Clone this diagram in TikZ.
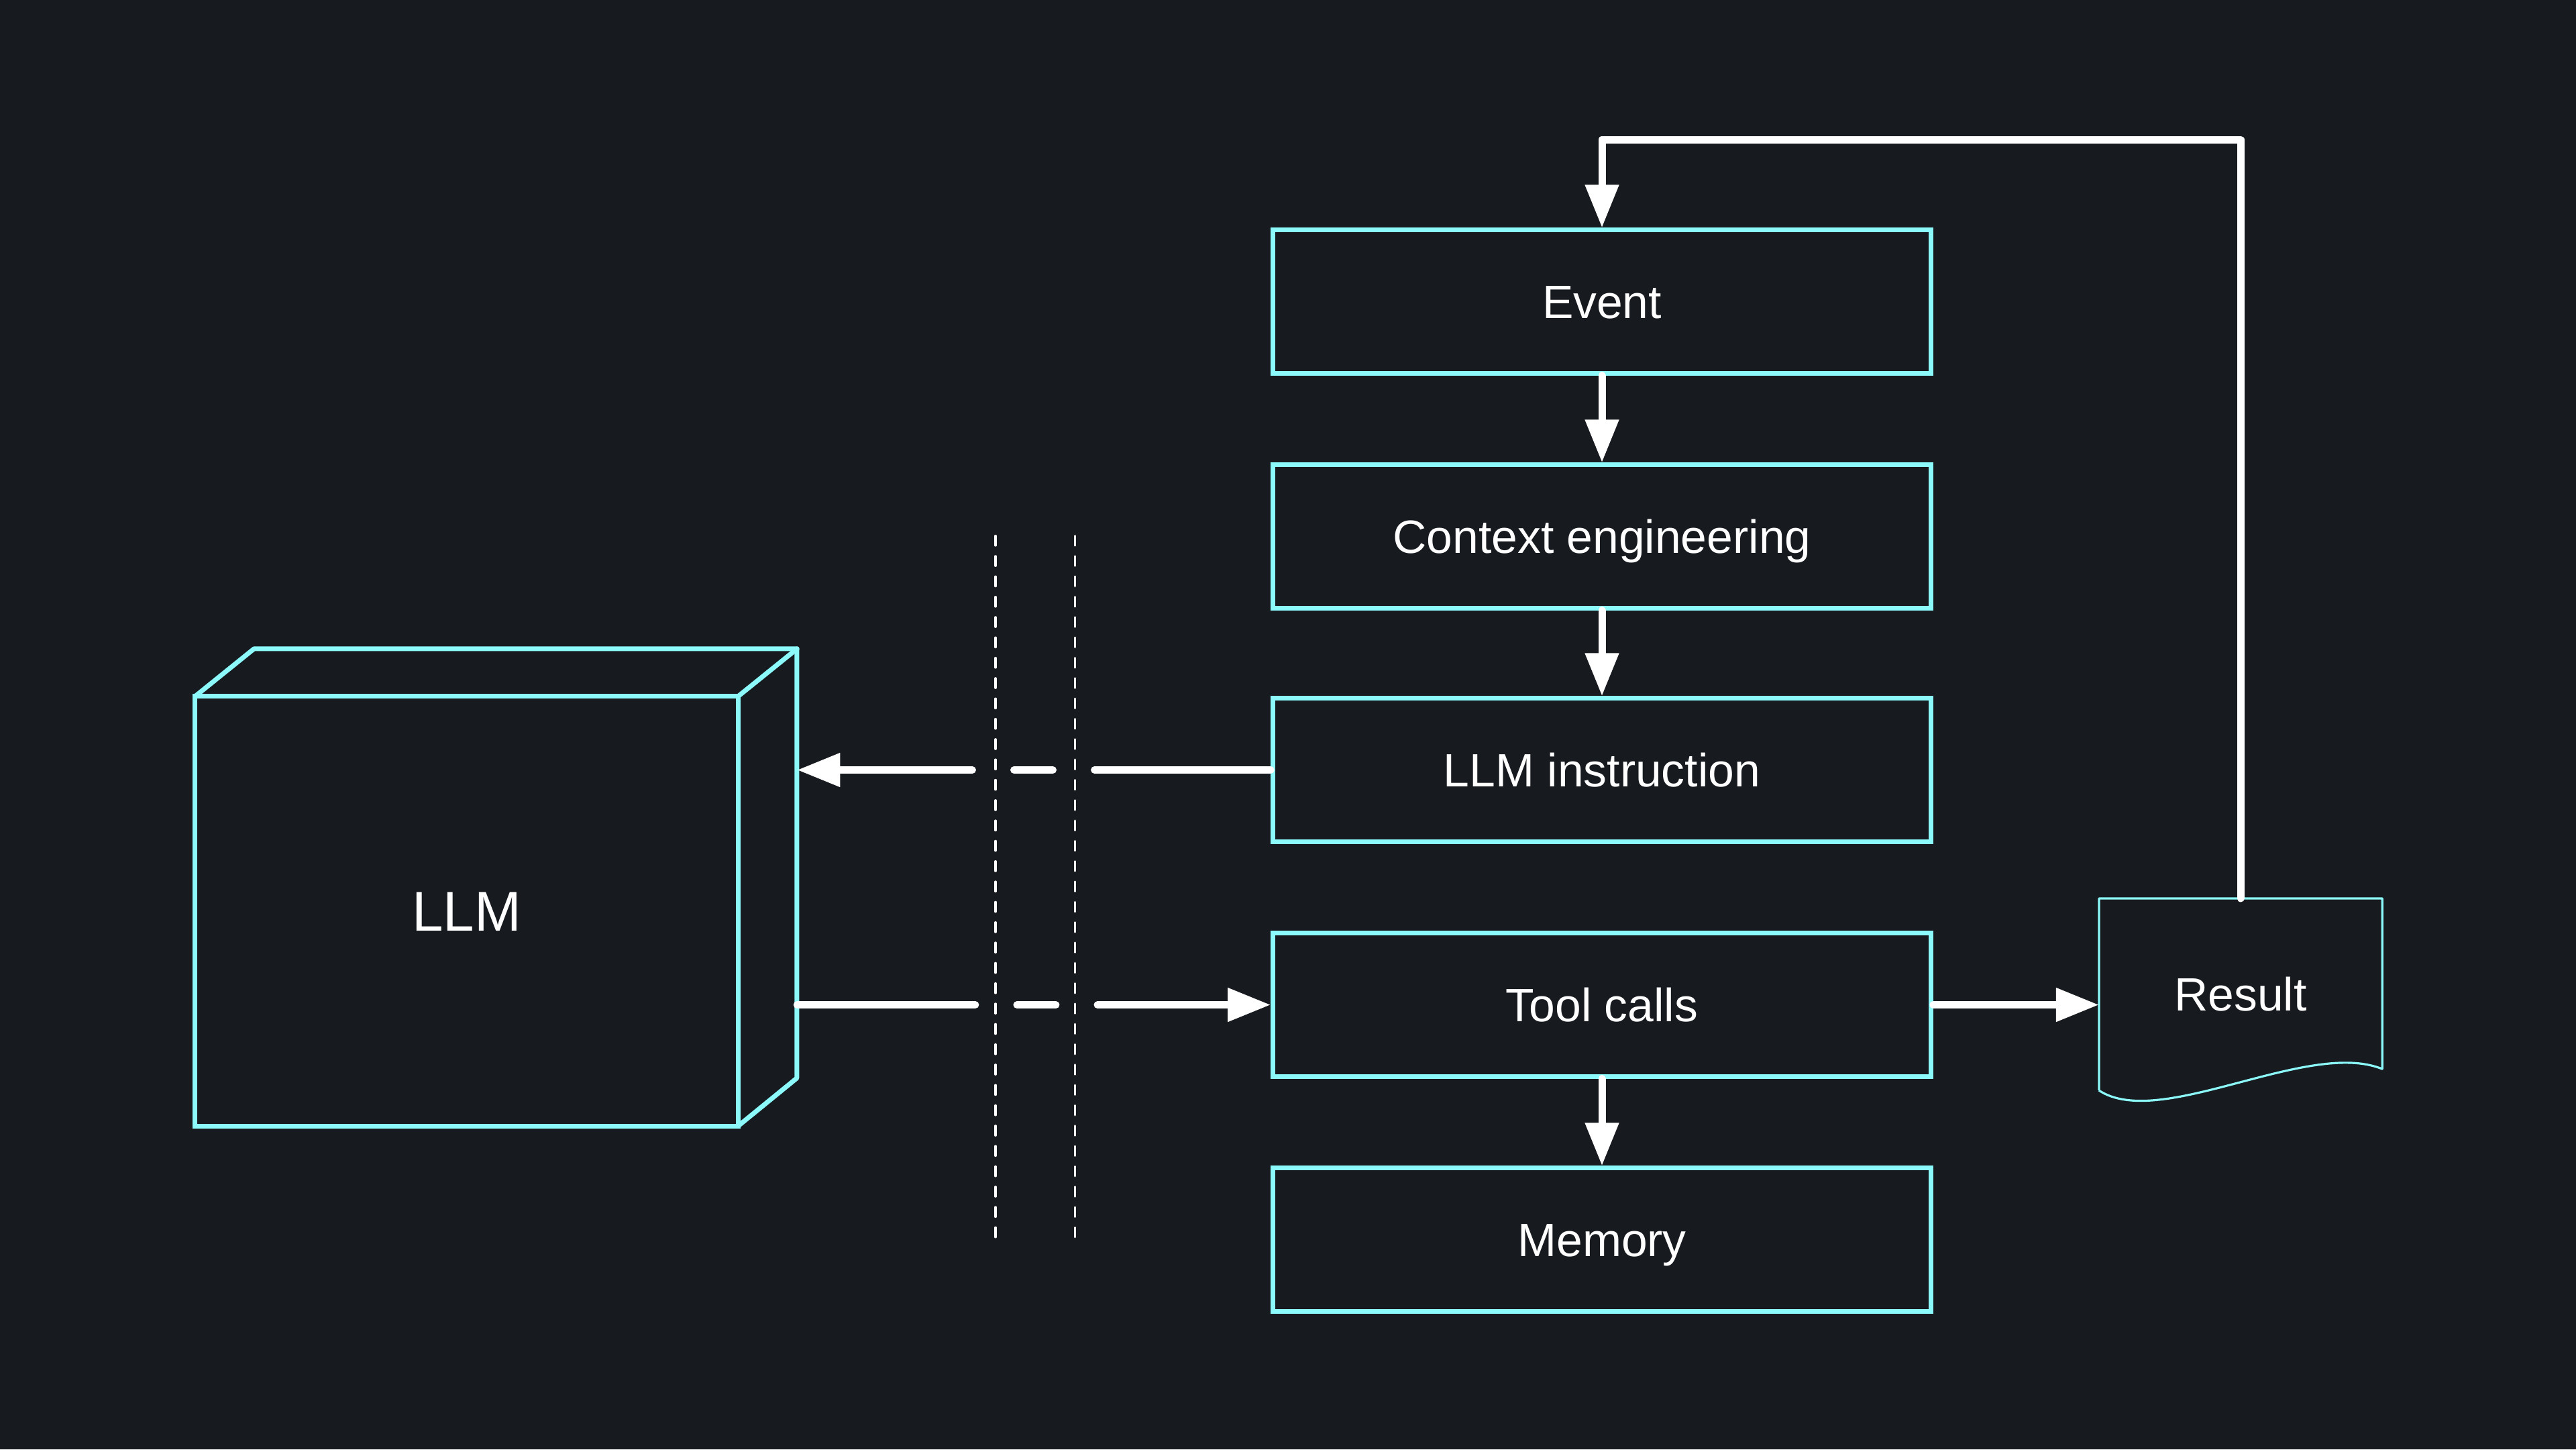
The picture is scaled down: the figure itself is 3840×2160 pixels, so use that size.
\documentclass[tikz,border=0pt]{standalone}
\usepackage{fontspec}
\setmainfont{Liberation Sans}
\usetikzlibrary{arrows.meta,calc}
\definecolor{bg}{HTML}{171A1F}
\definecolor{cyanc}{HTML}{8CFAFA}
\begin{document}
\begin{tikzpicture}[x=0.01cm,y=-0.01cm,
  stepbox/.style={draw=cyanc, line width=2pt, fill=bg, minimum width=9.8cm, minimum height=2.13cm,
    font=\fontsize{19.8}{22}\selectfont, text=white, text height=14.18pt, text depth=0pt, inner sep=0pt},
  llmbox/.style={draw=cyanc, line width=2pt, fill=bg, minimum width=8.09cm, minimum height=6.4cm,
    outer sep=0pt, font=\fontsize{23.8}{26}\selectfont, text=white, text height=17.04pt, text depth=0pt, inner sep=0pt},
  cubeedge/.style={draw=cyanc, line width=2pt, line join=round, line cap=round},
  docnode/.style={minimum width=4.22cm, minimum height=2.86cm, inner sep=0pt, outer sep=0pt,
    font=\fontsize{19.8}{22}\selectfont, text=white, text height=14.18pt, text depth=0pt},
  docedge/.style={draw=cyanc, line width=0.032cm, line join=round},
  wire/.style={draw=white, line width=0.11cm, line cap=round, line join=round,
    -{Triangle[length=0.64cm, width=0.48cm]}},
  fence/.style={draw=white, line width=0.033cm, line cap=round, dash pattern=on 0.144cm off 0.159cm}
]
\fill[bg] (0,0) rectangle (3840,2160);
\useasboundingbox (0,0) rectangle (3840,2160);

% boxes
\node[stepbox] (event)   at (2388,449.5)  {Event};
\node[stepbox] (context) at (2388,799.5)  {Context engineering};
\node[stepbox] (instr)   at (2388,1147.5) {LLM instruction};
\node[stepbox] (tool)    at (2388,1497.5) {Tool calls};
\node[stepbox] (memory)  at (2388,1847.5) {Memory};

% LLM cube
\node[llmbox] (llm) at (695.5,1358) {LLM};
\draw[cubeedge] (llm.north west) -- ++(88,-71) -- ++(809,0) -- ++(0,640) -- (llm.south east);
\draw[cubeedge] (llm.north east) -- ++(88,-71);
\coordinate (llmside) at ($(llm.east)+(88,0)$);

% result document
\node[docnode] (result) at (3340,1482) {Result};
\draw[docedge] (result.south west) -- (result.north west) -- (result.north east)
  -- ($(result.south east)+(0,-32)$)
  .. controls ($(result.south east)+(-111,-77)$) and ($(result.south west)+(91,60)$) .. (result.south west);

% fences
\coordinate (fa1) at (1484,798.6);
\coordinate (fa2) at (1484,1845);
\coordinate (fb1) at (1602.5,798.6);
\coordinate (fb2) at (1602.5,1845);
\draw[fence] (fa1) -- (fa2);
\draw[fence] (fb1) -- (fb2);

% vertical flow
\draw[wire] (event.south) -- (context.north);
\draw[wire] (context.south) -- (instr.north);
\draw[wire] (tool.south) -- (memory.north);

% across the fences
\draw[wire, dash pattern=on 2.625cm off 0.62cm on 0.58cm off 0.62cm on 4cm]
  (instr.west) -- (instr.west -| llmside);
\draw[wire, dash pattern=on 2.655cm off 0.62cm on 0.58cm off 0.62cm on 4cm]
  (tool.west -| llmside) -- (tool.west);

% to result and loop back
\draw[wire] (tool.east) -- (tool.east -| result.west);
\coordinate (looptop) at (3000,208);
\draw[wire] (result.north) -- (result.north |- looptop) -| (event.north);
\end{tikzpicture}
\end{document}
